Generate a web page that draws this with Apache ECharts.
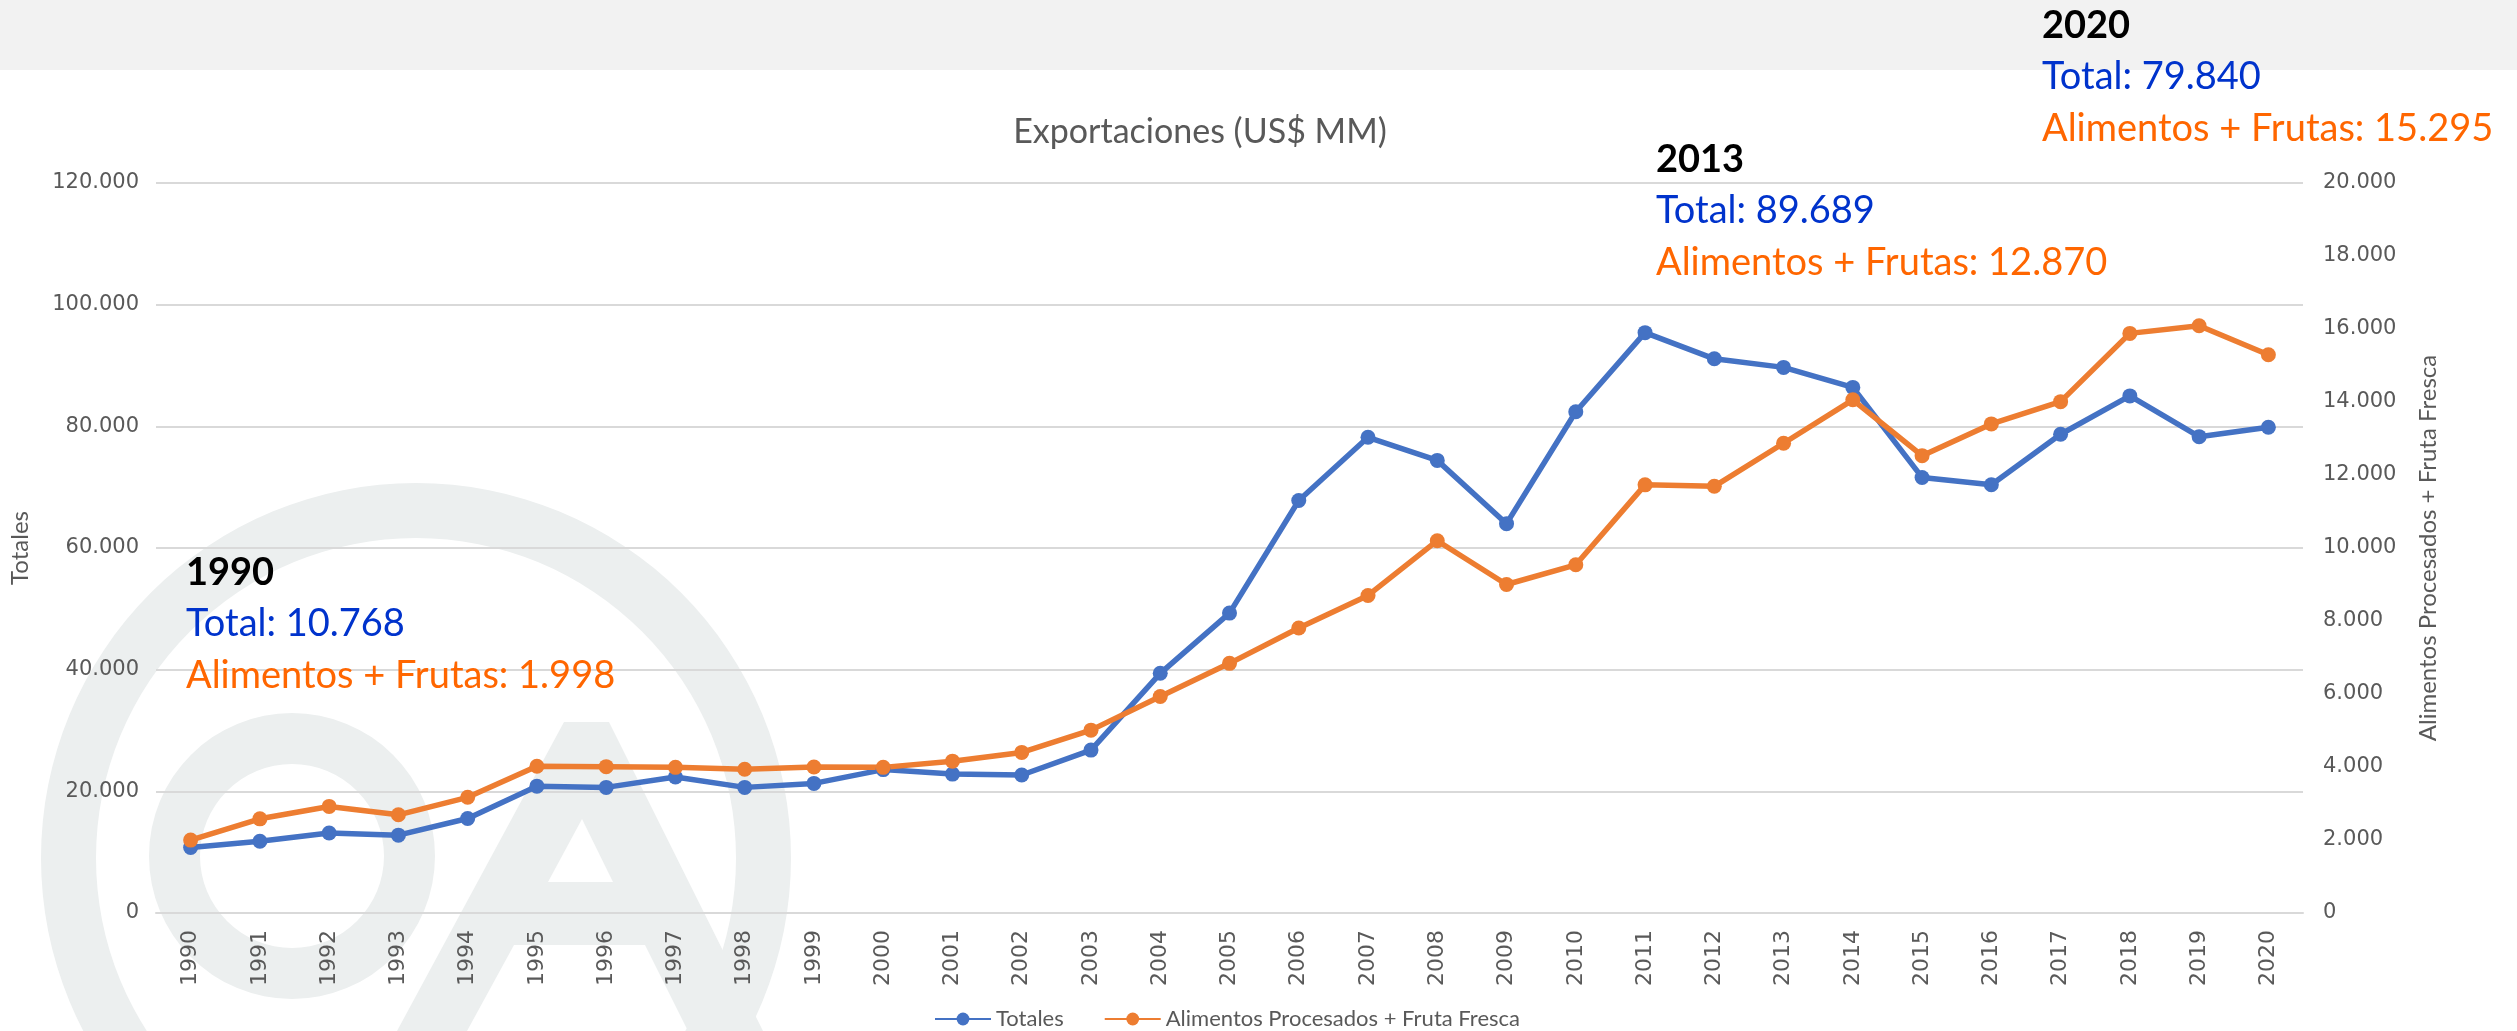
<!DOCTYPE html>
<html>
<head>
<meta charset="utf-8">
<style>
  html, body { margin: 0; padding: 0; background: #ffffff; }
  #chart { width: 2517px; height: 1031px; }
</style>
<script src="https://cdn.jsdelivr.net/npm/echarts@6/dist/echarts.min.js"></script>
</head>
<body>
<div id="chart"></div>
<script>
// data
var years = ['1990','1991','1992','1993','1994','1995','1996','1997','1998','1999','2000',
  '2001','2002','2003','2004','2005','2006','2007','2008','2009','2010',
  '2011','2012','2013','2014','2015','2016','2017','2018','2019','2020'];
var totales = [10768, 11800, 13150, 12800, 15540, 20850, 20650, 22350, 20650, 21300, 23570,
  22830, 22690, 26780, 39400, 49300, 67800, 78200, 74400, 64000, 82400,
  95400, 91100, 89689, 86400, 71600, 70400, 78700, 85000, 78300, 79840];
var alimentos = [1998, 2580, 2920, 2690, 3170, 4020, 4010, 3990, 3940, 4000, 3990,
  4160, 4400, 5010, 5930, 6840, 7810, 8700, 10200, 9000, 9540,
  11730, 11690, 12870, 14060, 12530, 13400, 14010, 15880, 16090, 15295];
var leftTicks = [0, 20000, 120000];   // min, interval, max
var rightTicks = [0, 2000, 20000];
var noteYears = ['1990', '2013', '2020'];
var notePos = [[186, 573], [1656, 160], [2042, 26]];

var BLUE = '#4472C4', ORANGE = '#ED7D31', GREY = '#595959';
var NOTE_FONT = 'Lato, "Open Sans", sans-serif';

function fmt(v) {
  return String(v).replace(/\B(?=(\d{3})+(?!\d))/g, '.');
}

var dom = document.getElementById('chart');
var myChart = echarts.init(dom);

// watermark + top band
var mark = '#ecefef';
var graphics = [
  { type: 'rect', z: -20, shape: { x: 0, y: 0, width: 2517, height: 70 }, style: { fill: '#f2f2f2' } },
  { type: 'ring', z: -10, shape: { cx: 416, cy: 858, r: 375, r0: 320 }, style: { fill: mark } },
  { type: 'ring', z: -10, shape: { cx: 292, cy: 856, r: 143, r0: 92 }, style: { fill: mark } },
  { type: 'polygon', z: -10, shape: {
      points: [[564, 722], [609, 722], [763, 1031], [688, 1031], [645, 945], [514, 945], [467, 1031], [397, 1031]]
    }, style: { fill: mark } },
  { type: 'polygon', z: -9, shape: { points: [[582, 819], [548, 882], [613, 882]] }, style: { fill: '#ffffff' } },
  { type: 'text', z: 10, x: 1200, y: 132, style: {
      text: 'Exportaciones (US$ MM)', align: 'center', verticalAlign: 'middle',
      fontFamily: NOTE_FONT, fontSize: 34, fill: GREY } }
];

noteYears.forEach(function (y, i) {
  var idx = years.indexOf(y);
  var p = notePos[i];
  graphics.push({ type: 'text', z: 10, x: p[0], y: p[1], style: {
    text: y, verticalAlign: 'middle', fontFamily: NOTE_FONT, fontWeight: 'bold', fontSize: 38, fill: '#000000' } });
  graphics.push({ type: 'text', z: 10, x: p[0], y: p[1] + 51, style: {
    text: 'Total: ' + fmt(totales[idx]), verticalAlign: 'middle', fontFamily: NOTE_FONT, fontSize: 38, fill: '#0033CC' } });
  graphics.push({ type: 'text', z: 10, x: p[0], y: p[1] + 103, style: {
    text: 'Alimentos + Frutas: ' + fmt(alimentos[idx]), verticalAlign: 'middle', fontFamily: NOTE_FONT, fontSize: 38, fill: '#FF6600' } });
});

var option = {
  backgroundColor: '#ffffff',
  animation: false,
  graphic: { elements: graphics },
  grid: { left: 150, right: 214, top: 183, bottom: 118, containLabel: false },
  legend: {
    left: 929, top: 1003,
    itemWidth: 56, itemHeight: 16, itemGap: 40,
    textStyle: { fontFamily: NOTE_FONT, fontSize: 22, color: GREY },
    data: ['Totales', 'Alimentos Procesados + Fruta Fresca']
  },
  xAxis: [{
    type: 'category',
    data: years,
    boundaryGap: true,
    axisLine: { lineStyle: { color: '#d9d9d9', width: 2 } },
    axisTick: { show: false },
    axisLabel: { rotate: 90, margin: 17, fontFamily: 'DejaVu Sans', fontSize: 22, color: GREY }
  }],
  yAxis: [{
    type: 'value',
    min: leftTicks[0], interval: leftTicks[1], max: leftTicks[2],
    name: 'Totales', nameLocation: 'middle', nameGap: 124, nameRotate: 90,
    nameTextStyle: { fontFamily: NOTE_FONT, fontSize: 24, color: GREY },
    axisLine: { show: false }, axisTick: { show: false },
    axisLabel: { margin: 17, fontFamily: 'DejaVu Sans', fontSize: 21, color: GREY, formatter: fmt },
    splitLine: { lineStyle: { color: '#d9d9d9', width: 2 } }
  }, {
    type: 'value',
    position: 'right',
    min: rightTicks[0], interval: rightTicks[1], max: rightTicks[2],
    name: 'Alimentos Procesados + Fruta Fresca', nameLocation: 'middle', nameGap: 113, nameRotate: 90,
    nameTextStyle: { fontFamily: NOTE_FONT, fontSize: 24, color: GREY },
    axisLine: { show: false }, axisTick: { show: false },
    axisLabel: { margin: 20, fontFamily: 'DejaVu Sans', fontSize: 21, color: GREY, formatter: fmt },
    splitLine: { show: false }
  }],
  series: [{
    name: 'Totales',
    type: 'line',
    yAxisIndex: 0,
    data: totales,
    symbol: 'circle', symbolSize: 15,
    lineStyle: { color: BLUE, width: 5.5 },
    itemStyle: { color: BLUE }
  }, {
    name: 'Alimentos Procesados + Fruta Fresca',
    type: 'line',
    yAxisIndex: 1,
    data: alimentos,
    symbol: 'circle', symbolSize: 15,
    lineStyle: { color: ORANGE, width: 5.5 },
    itemStyle: { color: ORANGE }
  }]
};

if (option && typeof option === 'object') {
  myChart.setOption(option, true);
}
</script>
</body>
</html>
